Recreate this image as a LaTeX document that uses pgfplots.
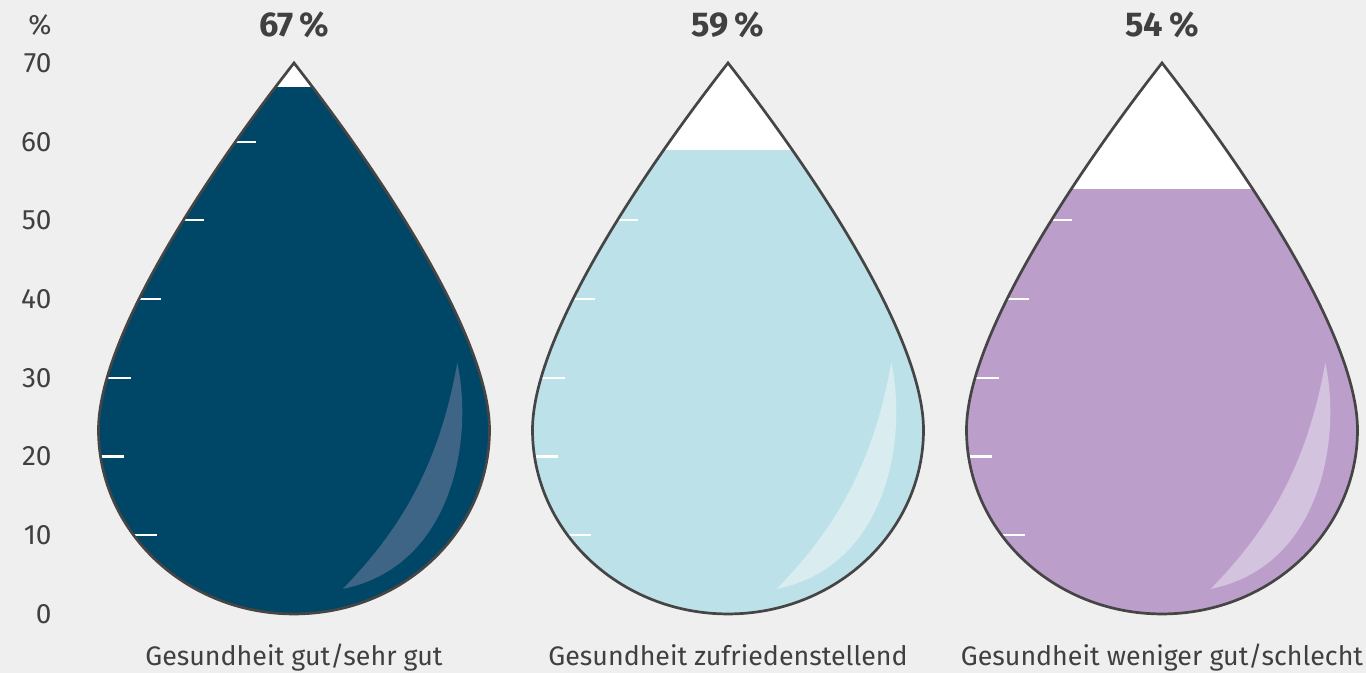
\documentclass[border=0pt]{standalone}
\usepackage{pgfplots}
\pgfplotsset{compat=1.18}
\usepackage{fontspec}
\setmainfont{Fira Sans}
\definecolor{bg}{HTML}{EFEFEF}
\definecolor{txt}{HTML}{404040}
\definecolor{outl}{HTML}{454545}
\definecolor{cA}{HTML}{004667}
\definecolor{cB}{HTML}{BDE1E8}
\definecolor{cC}{HTML}{BC9ECB}
\definecolor{hA}{HTML}{3E6585}
\definecolor{hB}{HTML}{D9EDF1}
\definecolor{hC}{HTML}{D4C3DF}
% drop outline: #1 centre, #2 cx-93.6, #3 cx-195.5, #4 cx-108, #5 cx+108, #6 cx+195.5, #7 cx+93.6
\newcommand{\droppath}[7]{(axis cs:#1,70) .. controls (axis cs:#2,54.76) and (axis cs:#3,34.81) .. (axis cs:#3,23.38) .. controls (axis cs:#3,10.47) and (axis cs:#4,0) .. (axis cs:#1,0) .. controls (axis cs:#5,0) and (axis cs:#6,10.47) .. (axis cs:#6,23.38) .. controls (axis cs:#6,34.81) and (axis cs:#7,54.76) .. (axis cs:#1,70) -- cycle}
\newcommand{\dropA}{\droppath{294}{200.4}{98.5}{186}{402}{489.5}{387.6}}
\newcommand{\dropB}{\droppath{728}{634.4}{532.5}{620}{836}{923.5}{821.6}}
\newcommand{\dropC}{\droppath{1162}{1068.4}{966.5}{1054}{1270}{1357.5}{1255.6}}
\begin{document}
\begin{tikzpicture}
\fill[bg] (0,0) rectangle (683pt,336.5pt);
\begin{axis}[
  at={(25pt,0pt)}, anchor=south west,
  scale only axis, x=0.5pt, y=3.9357pt,
  xmin=50, xmax=1366, ymin=-7.5, ymax=78,
  clip=false,
  axis x line=bottom, axis y line=left,
  axis line style={draw=none},
  major tick length=0pt,
  tick style={draw=none},
  ytick={0,10,20,30,40,50,60,70},
  xtick={294,728,1162},
  xticklabels={Gesundheit gut/sehr gut, Gesundheit zufriedenstellend, Gesundheit weniger gut/schlecht},
  /pgf/number format/assume math mode=true,
  yticklabel style={anchor=east, inner sep=0pt, xshift=1pt, font=\fontsize{14}{16}\selectfont, text=txt},
  xticklabel style={anchor=base, inner sep=0pt, yshift=3.65pt, font=\fontsize{13.4}{16}\selectfont, text=txt},
]
% white drop bodies
\fill[white] \dropA;
\fill[white] \dropB;
\fill[white] \dropC;
% fill levels (data)
\addplot[ybar, bar width=196pt, fill=cA, draw=none] coordinates {(294,67)};
\addplot[ybar, bar width=196pt, fill=cB, draw=none] coordinates {(728,59)};
\addplot[ybar, bar width=196pt, fill=cC, draw=none] coordinates {(1162,54)};
% masks outside the drops
\fill[bg, even odd rule] (axis cs:92,-1) rectangle (axis cs:496,70.6) \dropA;
\fill[bg, even odd rule] (axis cs:526,-1) rectangle (axis cs:930,70.6) \dropB;
\fill[bg, even odd rule] (axis cs:960,-1) rectangle (axis cs:1364,70.6) \dropC;
% highlights
\fill[hA] (axis cs:457.3,31.93) .. controls (axis cs:474,22) and (axis cs:452,6) .. (axis cs:342.7,3.18) .. controls (axis cs:395,10) and (axis cs:438,18) .. (axis cs:457.3,31.93) -- cycle;
\fill[hB] (axis cs:891.3,31.93) .. controls (axis cs:908,22) and (axis cs:886,6) .. (axis cs:776.7,3.18) .. controls (axis cs:829,10) and (axis cs:872,18) .. (axis cs:891.3,31.93) -- cycle;
\fill[hC] (axis cs:1325.3,31.93) .. controls (axis cs:1342,22) and (axis cs:1320,6) .. (axis cs:1210.7,3.18) .. controls (axis cs:1263,10) and (axis cs:1306,18) .. (axis cs:1325.3,31.93) -- cycle;
% scale marks
\draw[white, line width=1.1pt] (axis cs:233,60) -- (axis cs:256,60) (axis cs:181,50) -- (axis cs:204,50) (axis cs:138,40) -- (axis cs:161,40) (axis cs:108,30) -- (axis cs:131,30) (axis cs:101,20) -- (axis cs:124,20) (axis cs:134,10) -- (axis cs:157,10);
\draw[white, line width=1.1pt] (axis cs:667,60) -- (axis cs:690,60) (axis cs:615,50) -- (axis cs:638,50) (axis cs:572,40) -- (axis cs:595,40) (axis cs:542,30) -- (axis cs:565,30) (axis cs:535,20) -- (axis cs:558,20) (axis cs:568,10) -- (axis cs:591,10);
\draw[white, line width=1.1pt] (axis cs:1101,60) -- (axis cs:1124,60) (axis cs:1049,50) -- (axis cs:1072,50) (axis cs:1006,40) -- (axis cs:1029,40) (axis cs:976,30) -- (axis cs:999,30) (axis cs:969,20) -- (axis cs:992,20) (axis cs:1002,10) -- (axis cs:1025,10);
% outlines
\draw[outl, line width=1.35pt, line join=miter] \dropA;
\draw[outl, line width=1.35pt, line join=miter] \dropB;
\draw[outl, line width=1.35pt, line join=miter] \dropC;
% value labels
\node[text=txt, font=\fontsize{17.2}{19}\selectfont\bfseries] at (axis cs:294,74.8) {67\,\%};
\node[text=txt, font=\fontsize{17.2}{19}\selectfont\bfseries] at (axis cs:728,74.8) {59\,\%};
\node[text=txt, font=\fontsize{17.2}{19}\selectfont\bfseries] at (axis cs:1162,74.8) {54\,\%};
\node[text=txt, font=\fontsize{14}{16}\selectfont, anchor=east, inner sep=0pt] at (axis cs:52,74.8) {\%};
\end{axis}
\pgfresetboundingbox
\path[use as bounding box] (0,0) rectangle (683pt,336.5pt);
\end{tikzpicture}
\end{document}
